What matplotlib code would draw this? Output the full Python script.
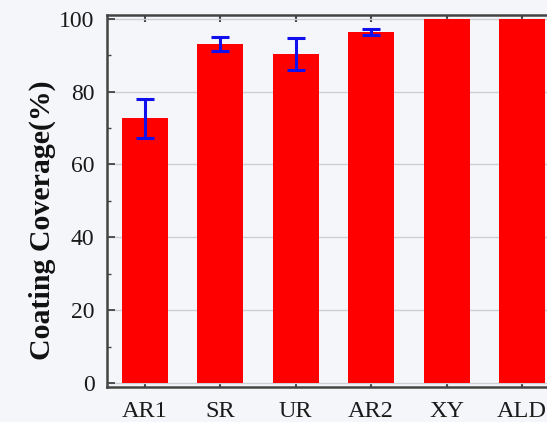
import matplotlib
matplotlib.use("Agg")
import matplotlib.pyplot as plt
from matplotlib.ticker import MultipleLocator

categories = ["AR1", "SR", "UR", "AR2", "XY", "ALD"]
coverage = [72.6, 93.0, 90.3, 96.3, 100.0, 100.0]
errors = [5.3, 2.0, 4.5, 0.9, 0.0, 0.0]
yticks = [0, 20, 40, 60, 80, 100]

plt.rcParams['font.family'] = ['Liberation Serif', 'DejaVu Serif']

fig = plt.figure(figsize=(5.47, 4.22), dpi=100)
bg = "#f5f6f9"
fig.patch.set_facecolor(bg)
ax = fig.add_axes([0.1956, 0.0829, 0.828, 0.8816])
ax.set_facecolor(bg)

x = list(range(len(categories)))
ax.grid(axis='y', color='#cfcfd3', linewidth=1.0, zorder=0)
ax.set_axisbelow(True)
ax.bar(x, coverage, width=0.61, color='#ff0000', zorder=2)
err_x = [i for i, e in zip(x, errors) if e > 0]
err_y = [v for v, e in zip(coverage, errors) if e > 0]
err_e = [e for e in errors if e > 0]
ax.errorbar(err_x, err_y, yerr=err_e, fmt='none', ecolor='#1010ee',
            elinewidth=2.2, capsize=6.5, capthick=2.2, zorder=3)

ax.set_xlim(-0.5, 5.5)
ax.set_ylim(-1.1, 101)
ax.set_xticks(x)
ax.set_xticklabels(categories)
ax.set_yticks(yticks)
ax.yaxis.set_minor_locator(MultipleLocator(10))

for s in ['left', 'bottom', 'top']:
    ax.spines[s].set_color('#444444')
    ax.spines[s].set_linewidth(1.8)
ax.spines['right'].set_visible(False)

ax.tick_params(axis='both', which='both', direction='in', colors='#444444',
               labelcolor='#1a1a1a')
ax.tick_params(axis='x', top=True, length=5, width=1.5, pad=10, labelsize=17.5)
ax.tick_params(axis='y', which='major', length=6, width=1.3, pad=9, labelsize=17)
ax.tick_params(axis='y', which='minor', length=3, width=1.0)

ax.set_ylabel("Coating Coverage(%)", fontsize=21.5, fontweight='bold',
              color='#111111')
ax.yaxis.set_label_coords(-0.112, 0.449)

fig.savefig("out.png", dpi=100, facecolor=bg)
